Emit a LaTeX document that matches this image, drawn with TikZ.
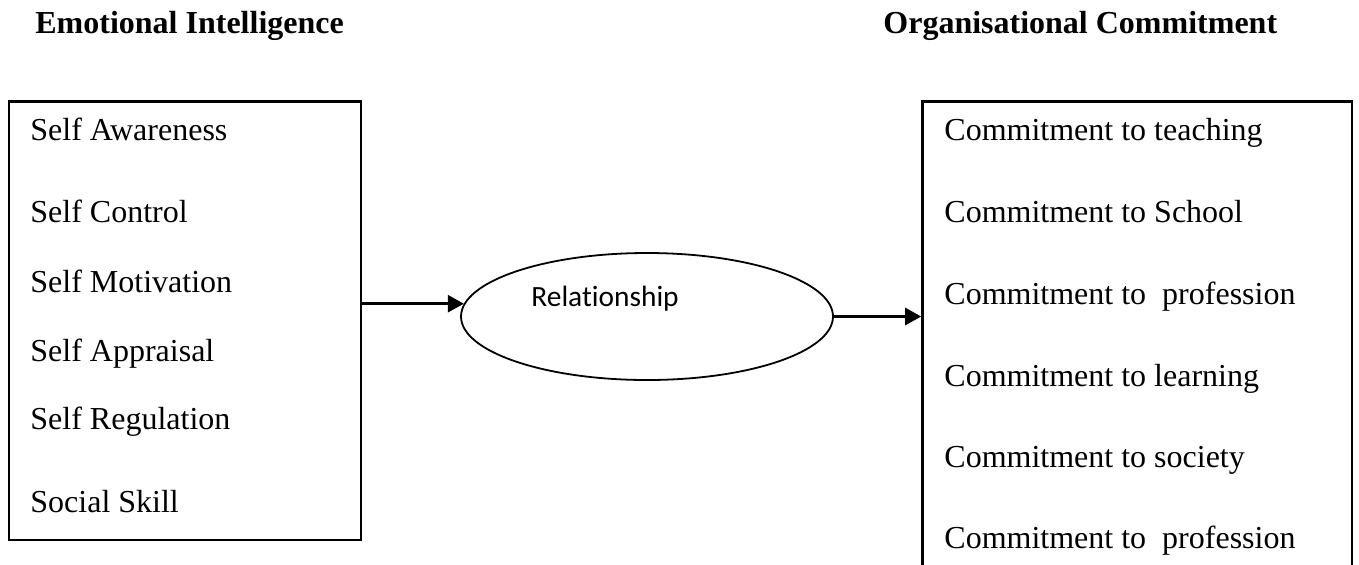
\documentclass[tikz,border=0pt]{standalone}
\usepackage{fontspec}
\setmainfont{Liberation Serif}
\newfontfamily\calibri[Ligatures=NoCommon]{Carlito}
\usetikzlibrary{arrows.meta,calc,shapes.geometric}
\tikzset{
	box/.style={draw, line width=1.3pt, inner sep=0pt},
	item/.style={anchor=base west, inner sep=0pt, font=\fontsize{16}{19}\selectfont},
	head/.style={item, font=\fontsize{16}{19}\selectfont\bfseries},
	arr/.style={-{Triangle[length=8pt,width=8.5pt]}, line width=1.3pt}
}

\begin{document}
\begin{tikzpicture}[x=0.5pt,y=-0.5pt]
		\clip (0,0) rectangle (1359,564);
		\node[head] (eiT) at (35,33) {Emotional Intelligence};
		\node[head] (ocT) at (883,33) {Organisational Commitment};
		\node[box, minimum width=176pt, minimum height=219.25pt] (ei) at (185,320.75) {};
		\node[box, minimum width=214.75pt, minimum height=259.25pt] (oc) at (1137.25,360.75) {};
		\node[draw, ellipse, line width=0.9pt, inner sep=0pt, minimum width=186pt, minimum height=63.5pt] (rel) at (647,316.5) {};
		\node[anchor=base west, inner sep=0pt, font=\calibri\fontsize{14.7}{17}\selectfont] (relT) at (531,306) {Relationship};
		\foreach \y/\t [count=\i] in {140.7/Self Awareness, 222.7/Self Control, 292.7/Self Motivation,
				361/Self Appraisal, 429/Self Regulation, 512/Social Skill}{
			\node[item] (ei\i) at (30,\y) {\t};
		}
		\foreach \y/\t [count=\i] in {140.7/Commitment to teaching, 222.7/Commitment to School,
				304/Commitment to~~profession, 386/Commitment to learning,
				467/Commitment to society, 548.7/Commitment to~~profession}{
			\node[item] (oc\i) at (944,\y) {\t};
		}
		\draw[arr] (ei.east |- rel.176) -- (rel.176);
		\draw[arr] (rel.east) -- (rel.east -| oc.west);
	\end{tikzpicture}
\end{document}
